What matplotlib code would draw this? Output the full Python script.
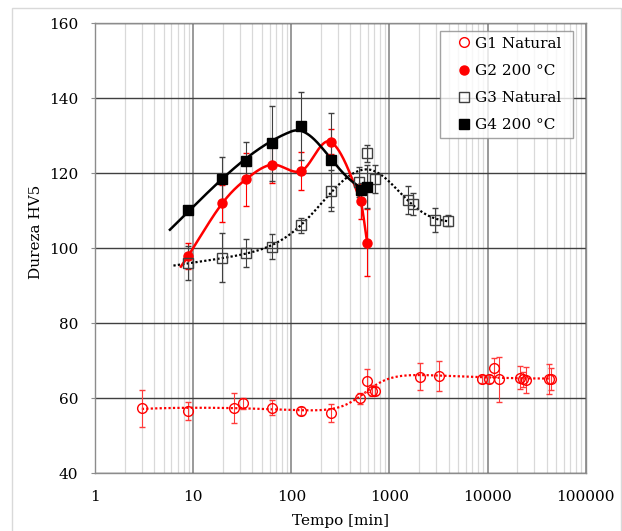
import numpy as np
import matplotlib
matplotlib.use('Agg')
import matplotlib.pyplot as plt
from matplotlib.lines import Line2D
from matplotlib.patches import Rectangle
from matplotlib.ticker import LogLocator, FixedLocator, NullFormatter, FuncFormatter

plt.rcParams['font.family'] = ['DejaVu Serif', 'DejaVu Sans']

# ---------------- data ----------------
g1_t = [3, 8.8, 26.2, 31.9, 63, 126, 251, 500, 593, 657, 710, 2040, 3185,
        8870, 10300, 11650, 13100, 21600, 23000, 24900, 42000, 43900]
g1_v = [57.3, 56.6, 57.3, 58.7, 57.5, 56.6, 56.1, 60.0, 64.7, 62.0, 62.0, 65.8, 66.0,
        65.2, 65.2, 68.2, 65.1, 65.5, 65.1, 64.9, 65.1, 65.1]
g1_e = [5.0, 2.3, 4.0, 1.5, 2.0, 1.0, 2.5, 1.5, 3.0, 1.5, 1.0, 3.7, 4.0,
        1.0, 1.0, 2.5, 6.0, 3.0, 2.0, 3.4, 4.0, 3.0]

g2_t = [8.9, 19.8, 34.5, 63, 126, 251, 508, 593]
g2_v = [98.0, 112.0, 118.4, 122.3, 120.6, 128.4, 112.5, 101.5]
g2_e = [3.5, 5.0, 7.0, 5.0, 5.0, 3.3, 4.6, 9.0]

g3_t = [8.8, 19.8, 34.5, 63, 126, 251, 492, 593, 710, 1550, 1745, 2945, 3963]
g3_v = [96.0, 97.5, 98.7, 100.4, 106.1, 115.4, 117.8, 125.3, 118.5, 112.9, 111.8, 107.5, 107.4]
g3_e = [4.5, 6.5, 3.8, 3.3, 2.0, 5.4, 4.0, 2.3, 3.8, 3.8, 3.0, 3.2, 1.5]

g4_t = [8.9, 19.8, 34.5, 63, 126, 251, 508, 585]
g4_v = [110.2, 118.4, 123.4, 128.0, 132.6, 123.5, 115.5, 116.4]
g4_e = [1.0, 6.0, 5.0, 10.0, 9.0, 12.5, 2.0, 5.7]

labels = ['G1 Natural', 'G2 200 °C', 'G3 Natural', 'G4 200 °C']
x_ticks = [1, 10, 100, 1000, 10000, 100000]
y_ticks = [40, 60, 80, 100, 120, 140, 160]

# curve start (backward forecast) for each group
trend_start = {'G1': 3, 'G2': 7.5, 'G3': 6.3, 'G4': 5.8}


# ---------------- curve helpers (all computed from the data) ----------------
def hermite(t, v, t0):
    u = np.log10(np.asarray(t, float))
    y = np.asarray(v, float)
    n = len(u)
    m = np.empty(n)
    m[0] = (y[1] - y[0]) / (u[1] - u[0])
    m[-1] = (y[-1] - y[-2]) / (u[-1] - u[-2])
    for i in range(1, n - 1):
        m[i] = (y[i + 1] - y[i - 1]) / (u[i + 1] - u[i - 1])
    xs_all, ys_all = [], []
    for i in range(n - 1):
        h = u[i + 1] - u[i]
        s0 = (np.log10(t0) - u[0]) / h if i == 0 else 0.0
        s = np.linspace(s0, 1, 80)
        h00 = 2 * s ** 3 - 3 * s ** 2 + 1
        h10 = s ** 3 - 2 * s ** 2 + s
        h01 = -2 * s ** 3 + 3 * s ** 2
        h11 = s ** 3 - s ** 2
        xs_all.append(u[i] + s * h)
        ys_all.append(h00 * y[i] + h10 * h * m[i] + h01 * y[i + 1] + h11 * h * m[i + 1])
    return 10 ** np.concatenate(xs_all), np.concatenate(ys_all)


def sigmoid_fit(t, v, t0):
    u = np.log10(t)
    v = np.asarray(v, float)
    best = None
    for c in np.linspace(2.3, 3.0, 71):
        for d in np.linspace(0.02, 0.3, 57):
            s = 1 / (1 + np.exp(-(u - c) / d))
            A = np.vstack([np.ones_like(u), u, u ** 2, u ** 3, s]).T
            p = np.linalg.lstsq(A, v, rcond=None)[0]
            r = np.sum((A @ p - v) ** 2)
            if best is None or r < best[0]:
                best = (r, c, d, p)
    _, c, d, p = best
    xs = np.linspace(np.log10(t0), u.max(), 400)
    s = 1 / (1 + np.exp(-(xs - c) / d))
    return 10 ** xs, p[0] + p[1] * xs + p[2] * xs ** 2 + p[3] * xs ** 3 + p[4] * s


def skew_peak_fit(t, v, t0, c_range, wl_range, wr_range):
    u = np.log10(t)
    v = np.asarray(v, float)

    def g(x, c, wl, wr):
        w = np.where(x < c, wl, wr)
        return np.exp(-((x - c) / w) ** 2)

    best = None
    for c in np.arange(c_range[0], c_range[1], 0.02):
        for wl in np.arange(wl_range[0], wl_range[1], 0.05):
            for wr in np.arange(wr_range[0], wr_range[1], 0.05):
                A = np.vstack([np.ones_like(u), u, g(u, c, wl, wr)]).T
                p = np.linalg.lstsq(A, v, rcond=None)[0]
                r = np.sum((A @ p - v) ** 2)
                if best is None or r < best[0]:
                    best = (r, c, wl, wr, p)
    _, c, wl, wr, p = best
    xs = np.linspace(np.log10(t0), u.max(), 400)
    return 10 ** xs, p[0] + p[1] * xs + p[2] * g(xs, c, wl, wr)


# ---------------- figure ----------------
W, H = 622, 531
fig = plt.figure(figsize=(W / 100, H / 100), dpi=100)
fig.patches.append(Rectangle((12 / W, -0.2), (621 - 12) / W, 1.2 - 8 / H,
                             transform=fig.transFigure, fill=False,
                             ec='#d9d9d9', lw=1.0))

L, R, T, B = 95, 585.7, 23.3, 473.3
ax = fig.add_axes([L / W, 1 - B / H, (R - L) / W, (B - T) / H])
ax.set_xscale('log')
ax.set_xlim(1, 1e5)
ax.set_ylim(40, 160)

ax.xaxis.set_major_locator(FixedLocator(x_ticks))
ax.xaxis.set_major_formatter(FuncFormatter(lambda v, p: '%d' % round(v)))
ax.xaxis.set_minor_locator(LogLocator(base=10, subs=np.arange(2, 10), numticks=20))
ax.xaxis.set_minor_formatter(NullFormatter())
ax.yaxis.set_major_locator(FixedLocator(y_ticks))

ax.grid(which='minor', axis='x', color='#d9d9d9', lw=0.9)
ax.grid(which='major', axis='x', color='#7f7f7f', lw=1.1)
ax.grid(which='major', axis='y', color='#404040', lw=1.0)
ax.set_axisbelow(True)
for s in ax.spines.values():
    s.set_color('#8c8c8c')
    s.set_linewidth(1.0)

ax.tick_params(axis='x', which='both', length=0, pad=12, labelsize=11)
ax.tick_params(axis='y', which='major', length=3, color='#8c8c8c', pad=9, labelsize=11)

# fitted / smoothed curves
ax.plot(*sigmoid_fit(g1_t, g1_v, trend_start['G1']), color='red', lw=1.6,
        ls=(0, (1, 1)), zorder=3)
ax.plot(*skew_peak_fit(g3_t, g3_v, trend_start['G3'], (2.5, 3.21), (0.3, 1.51), (0.15, 1.01)),
        color='black', lw=1.6, ls=(0, (1, 1)), zorder=3)
ax.plot(*hermite(g2_t, g2_v, trend_start['G2']), color='red', lw=1.8, zorder=3)
ax.plot(*skew_peak_fit(g4_t, g4_v, trend_start['G4'], (1.8, 2.41), (0.5, 1.51), (0.55, 1.01)),
        color='black', lw=1.8, zorder=3)

# error bars
ax.errorbar(g1_t, g1_v, yerr=g1_e, fmt='none', ecolor='#ff3b3b', elinewidth=0.8, capsize=2, zorder=4)
ax.errorbar(g2_t, g2_v, yerr=g2_e, fmt='none', ecolor='red', elinewidth=0.8, capsize=2, zorder=4)
ax.errorbar(g3_t, g3_v, yerr=g3_e, fmt='none', ecolor='#404040', elinewidth=0.8, capsize=2, zorder=4)
ax.errorbar(g4_t, g4_v, yerr=g4_e, fmt='none', ecolor='#404040', elinewidth=0.8, capsize=2, zorder=4)

# markers
ax.plot(g1_t, g1_v, ls='none', marker='o', ms=7, mfc='none', mec='red', mew=1.0, zorder=5)
ax.plot(g2_t, g2_v, ls='none', marker='o', ms=6.5, mfc='red', mec='red', zorder=5)
ax.plot(g3_t, g3_v, ls='none', marker='s', ms=6.7, mfc='none', mec='#404040', mew=1.0, zorder=5)
ax.plot(g4_t, g4_v, ls='none', marker='s', ms=6.7, mfc='black', mec='black', zorder=5)

handles = [
    Line2D([], [], ls='none', marker='o', ms=7, mfc='none', mec='red', mew=1.0),
    Line2D([], [], ls='none', marker='o', ms=6.5, mfc='red', mec='red'),
    Line2D([], [], ls='none', marker='s', ms=6.7, mfc='none', mec='#404040', mew=1.0),
    Line2D([], [], ls='none', marker='s', ms=6.7, mfc='black', mec='black'),
]
leg = fig.legend(handles, labels, loc='upper left', mode='expand',
                 bbox_to_anchor=(440 / W, 1 - 144 / H, 133.3 / W, 113.3 / H),
                 borderaxespad=0, fontsize=11, frameon=True, fancybox=False,
                 edgecolor='#8c8c8c', handlelength=2.34, handletextpad=-0.45,
                 labelspacing=0.86, borderpad=0.4)
leg.get_frame().set_linewidth(1.0)

fig.text(340 / W, 1 - 521 / H, 'Tempo [min]', ha='center', va='center', fontsize=11)
fig.text(35.5 / W, 1 - 232 / H, 'Dureza HV5', ha='center', va='center',
         rotation=90, fontsize=11)

fig.savefig('out.png', dpi=100)
